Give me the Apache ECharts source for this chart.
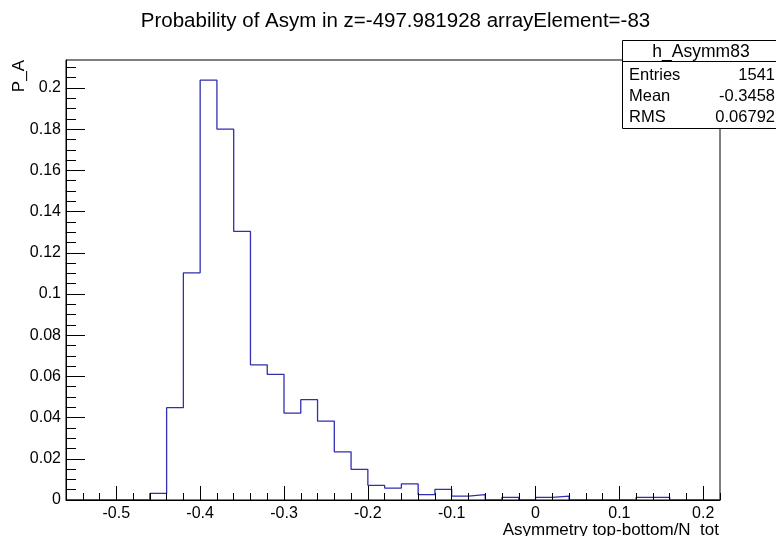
<!DOCTYPE html>
<html>
<head>
<meta charset="utf-8">
<script src="https://cdn.jsdelivr.net/npm/echarts@6/dist/echarts.min.js"></script>
<style>html,body{margin:0;padding:0;background:#fff;}#c{width:776px;height:536px;}</style>
</head>
<body>
<div id="c"></div>
<script>
// Bin low edges (width 0.02) and probabilities
var binLowEdges = [-0.56,-0.54,-0.52,-0.50,-0.48,-0.46,-0.44,-0.42,-0.40,-0.38,-0.36,-0.34,-0.32,-0.30,-0.28,-0.26,-0.24,-0.22,-0.20,-0.18,-0.16,-0.14,-0.12,-0.10,-0.08,-0.06,-0.04,-0.02,0.00,0.02,0.04,0.06,0.08,0.10,0.12,0.14,0.16,0.18,0.20];
var binUpperEnd = 0.22;
var probability = [0,0,0,0,0,0.0032,0.0448,0.1103,0.2038,0.1800,0.1304,0.0656,0.0610,0.0422,0.0487,0.0383,0.0234,0.0149,0.0071,0.0058,0.0078,0.0026,0.0052,0.0019,0.0026,0,0.0013,0,0.0013,0.0019,0,0,0,0,0.0013,0.0013,0,0,0];
var xMajorTicks = [-0.5,-0.4,-0.3,-0.2,-0.1,0,0.1,0.2];
var xMinorTicks = [-0.56,-0.54,-0.52,-0.50,-0.48,-0.46,-0.44,-0.42,-0.40,-0.38,-0.36,-0.34,-0.32,-0.30,-0.28,-0.26,-0.24,-0.22,-0.20,-0.18,-0.16,-0.14,-0.12,-0.10,-0.08,-0.06,-0.04,-0.02,0,0.02,0.04,0.06,0.08,0.10,0.12,0.14,0.16,0.18,0.20,0.22];
var yMajorTicks = [0,0.02,0.04,0.06,0.08,0.1,0.12,0.14,0.16,0.18,0.2];
var yMinorTicks = [0,0.005,0.01,0.015,0.02,0.025,0.03,0.035,0.04,0.045,0.05,0.055,0.06,0.065,0.07,0.075,0.08,0.085,0.09,0.095,0.1,0.105,0.11,0.115,0.12,0.125,0.13,0.135,0.14,0.145,0.15,0.155,0.16,0.165,0.17,0.175,0.18,0.185,0.19,0.195,0.2,0.205,0.21];
var titleText = 'Probability of Asym in z=-497.981928 arrayElement=-83';
var xName = 'Asymmetry top-bottom/N_tot';
var yName = 'P_A';
var statsName = 'h_Asymm83';
var statsRows = [['Entries','1541'],['Mean','-0.3458'],['RMS','0.06792']];

var xMin = -0.56, xMax = 0.22, yMin = 0, yMax = 0.2136;
var FONT = 'Liberation Sans, Arial, Helvetica, sans-serif';

var stepData = binLowEdges.map(function(e,i){ return [e, probability[i]]; });
stepData.push([binUpperEnd, probability[probability.length-1]]);

var chart = echarts.init(document.getElementById('c'), null, {renderer:'canvas'});

var statsGraphics = [
  {type:'rect', shape:{x:622.5,y:40.5,width:160,height:88}, style:{fill:'#fff',stroke:'#000',lineWidth:1}, z:100},
  {type:'line', shape:{x1:622.5,y1:61.5,x2:776,y2:61.5}, style:{stroke:'#000',lineWidth:1}, z:101},
  {type:'text', x:701, y:52, style:{text:statsName, font:'17.5px '+FONT, fill:'#000', textAlign:'center', textVerticalAlign:'middle'}, z:101}
];
statsRows.forEach(function(r,i){
  statsGraphics.push({type:'text', x:629, y:75+i*21, style:{text:r[0], font:'16.5px '+FONT, fill:'#000', textAlign:'left', textVerticalAlign:'middle'}, z:101});
  statsGraphics.push({type:'text', x:775, y:75+i*21, style:{text:r[1], font:'16.5px '+FONT, fill:'#000', textAlign:'right', textVerticalAlign:'middle'}, z:101});
});

var option = {
  animation:false,
  backgroundColor:'#fff',
  grid:{left:66, right:56, top:60, bottom:36, show:true, borderColor:'#000', borderWidth:1, backgroundColor:'transparent', containLabel:false, outerBoundsMode:'none'},
  xAxis:[
    {type:'value', min:xMin, max:xMax, position:'bottom', z:5,
     axisLine:{show:true, onZero:false, lineStyle:{color:'#000', width:1}},
     axisTick:{show:true, inside:true, length:14, customValues:xMajorTicks, lineStyle:{color:'#000'}},
     axisLabel:{show:true, customValues:xMajorTicks, color:'#000', fontSize:16, fontFamily:FONT, margin:6, showMinLabel:true, showMaxLabel:true},
     splitLine:{show:false}},
    {type:'value', min:xMin, max:xMax, position:'bottom', z:5,
     axisLine:{show:false, onZero:false},
     axisTick:{show:true, inside:true, length:7, customValues:xMinorTicks, lineStyle:{color:'#000'}},
     axisLabel:{show:false},
     splitLine:{show:false}}
  ],
  yAxis:[
    {type:'value', min:yMin, max:yMax, position:'left', z:5,
     axisLine:{show:true, onZero:false, lineStyle:{color:'#000', width:1}},
     axisTick:{show:true, inside:true, length:19, customValues:yMajorTicks, lineStyle:{color:'#000'}},
     axisLabel:{show:true, customValues:yMajorTicks, color:'#000', fontSize:16, fontFamily:FONT, margin:5},
     splitLine:{show:false}},
    {type:'value', min:yMin, max:yMax, position:'left', z:5,
     axisLine:{show:false, onZero:false},
     axisTick:{show:true, inside:true, length:10, customValues:yMinorTicks, lineStyle:{color:'#000'}},
     axisLabel:{show:false},
     splitLine:{show:false}}
  ],
  series:[{
    type:'line', xAxisIndex:0, yAxisIndex:0, step:'end', data:stepData, symbol:'none', z:1,
    lineStyle:{color:'#2f2fb0', width:1.3}, clip:true
  }],
  graphic:[
    {type:'text', x:395.5, y:21, style:{text:titleText, font:'20.5px '+FONT, fill:'#000', textAlign:'center', textVerticalAlign:'middle'}, z:100},
    {type:'text', x:719, y:530, style:{text:xName, font:'17px '+FONT, fill:'#000', textAlign:'right', textVerticalAlign:'middle'}, z:100},
    {type:'text', x:19, y:60, rotation:Math.PI/2, style:{text:yName, font:'17px '+FONT, fill:'#000', textAlign:'right', textVerticalAlign:'middle'}, z:100}
  ].concat(statsGraphics)
};
chart.setOption(option);
</script>
</body>
</html>
